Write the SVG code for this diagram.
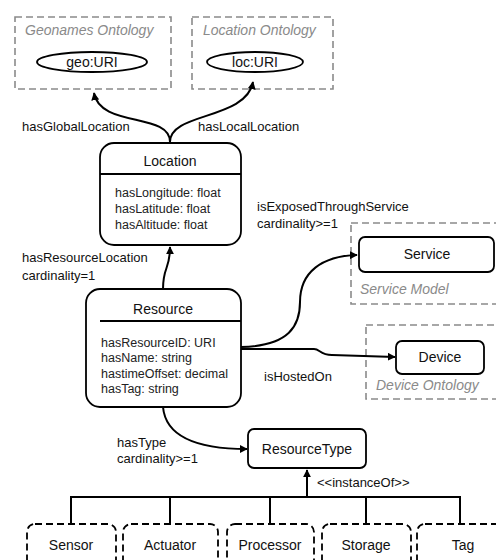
<svg xmlns="http://www.w3.org/2000/svg" width="496" height="560" viewBox="0 0 496 560">
  <defs>
    <marker id="arrow" viewBox="0 0 10 10" refX="9" refY="5" markerWidth="8" markerHeight="8" markerUnits="userSpaceOnUse" orient="auto">
      <path d="M0,0 L10,5 L0,10 z" fill="#000"/>
    </marker>
    <style>
      text { font-family: "Liberation Sans", Arial, sans-serif; fill: #111; }
      .lbl { font-size: 13px; }
      .attr { font-size: 12.5px; fill: #222; }
      .title { font-size: 14px; text-anchor: middle; }
      .scope { font-size: 14px; font-style: italic; fill: #8a8a8a; }
      .scopebox { fill: none; stroke: #8a8a8a; stroke-width: 1.6; stroke-dasharray: 7 4; }
      .cls { fill: #fff; stroke: #000; stroke-width: 1.8; }
      .sub { fill: #fff; stroke: #000; stroke-width: 1.8; stroke-dasharray: 7 4; }
      .edge { fill: none; stroke: #000; stroke-width: 2; }
    </style>
  </defs>

  <!-- external ontology scopes -->
  <g id="geonames">
    <rect class="scopebox" x="15" y="17" width="156" height="72"/>
    <text class="scope" x="25" y="35">Geonames Ontology</text>
    <ellipse cx="92" cy="62" rx="55" ry="10" fill="#fff" stroke="#000" stroke-width="1.8"/>
    <text class="title" x="92" y="67">geo:URI</text>
  </g>
  <g id="location-ontology">
    <rect class="scopebox" x="192" y="17" width="141" height="72"/>
    <text class="scope" x="203" y="35">Location Ontology</text>
    <ellipse cx="255" cy="62" rx="48" ry="10" fill="#fff" stroke="#000" stroke-width="1.8"/>
    <text class="title" x="255" y="67">loc:URI</text>
  </g>
  <g id="service-model">
    <rect class="scopebox" x="351" y="223" width="160" height="81"/>
    <text class="scope" x="360" y="294">Service Model</text>
  </g>
  <g id="device-ontology">
    <rect class="scopebox" x="366" y="325" width="145" height="74"/>
    <text class="scope" x="376" y="390">Device Ontology</text>
  </g>

  <!-- connectors -->
  <g id="connectors">
    <path class="edge" d="M170,142 C170,112 100,128 94,93" marker-end="url(#arrow)"/>
    <path class="edge" d="M170,142 C170,112 246,120 253,82" marker-end="url(#arrow)"/>
    <path class="edge" d="M163,289 C163,266 170,270 170,247" marker-end="url(#arrow)"/>
    <path class="edge" d="M241,347 C290,346 300,325 300,302 C300,272 322,256 357,255" marker-end="url(#arrow)"/>
    <path class="edge" d="M241,349 L314,349 C320,349 320,355 332,355 L395,357" marker-end="url(#arrow)"/>
    <path class="edge" d="M163,407 C166,440 205,449 247,449" marker-end="url(#arrow)"/>
    <path class="edge" d="M307,497 L307,470" marker-end="url(#arrow)"/>
    <path class="edge" d="M71,524 L71,497 L460,497 L460,524 M170,497 L170,524 M270,497 L270,524 M366,497 L366,524"/>
    <text class="lbl" x="22" y="131">hasGlobalLocation</text>
    <text class="lbl" x="198" y="131">hasLocalLocation</text>
    <text class="lbl" x="22" y="262">hasResourceLocation</text>
    <text class="lbl" x="22" y="280">cardinality=1</text>
    <text class="lbl" x="257" y="211">isExposedThroughService</text>
    <text class="lbl" x="257" y="228">cardinality&gt;=1</text>
    <text class="lbl" x="264" y="381">isHostedOn</text>
    <text class="lbl" x="117" y="447">hasType</text>
    <text class="lbl" x="117" y="463">cardinality&gt;=1</text>
    <text class="lbl" x="317" y="487">&lt;&lt;instanceOf&gt;&gt;</text>
  </g>

  <!-- classes -->
  <g id="location">
    <rect class="cls" x="100" y="143" width="141" height="102" rx="14"/>
    <line x1="100" y1="174" x2="241" y2="174" stroke="#000" stroke-width="1.8"/>
    <text class="title" x="170" y="166">Location</text>
    <text class="attr" x="115" y="197">hasLongitude: float</text>
    <text class="attr" x="115" y="213">hasLatitude: float</text>
    <text class="attr" x="115" y="229">hasAltitude: float</text>
  </g>
  <g id="resource">
    <rect class="cls" x="86" y="289" width="155" height="118" rx="14"/>
    <line x1="100" y1="321" x2="241" y2="321" stroke="#000" stroke-width="1.8"/>
    <text class="title" x="163" y="314">Resource</text>
    <text class="attr" x="101" y="347">hasResourceID: URI</text>
    <text class="attr" x="101" y="362">hasName: string</text>
    <text class="attr" x="101" y="378">hastimeOffset: decimal</text>
    <text class="attr" x="101" y="393">hasTag: string</text>
  </g>
  <g id="service">
    <rect class="cls" x="359" y="237" width="135" height="35" rx="6"/>
    <text class="title" x="427" y="259">Service</text>
  </g>
  <g id="device">
    <rect class="cls" x="396" y="341" width="88" height="33" rx="6"/>
    <text class="title" x="440" y="362">Device</text>
  </g>
  <g id="resource-type">
    <rect class="cls" x="248" y="429" width="118" height="39" rx="6"/>
    <text class="title" x="307" y="454">ResourceType</text>
  </g>

  <!-- resource type instances -->
  <g id="sensor">
    <rect class="sub" x="27" y="524" width="89" height="60" rx="8"/>
    <text class="title" x="71" y="550">Sensor</text>
  </g>
  <g id="actuator">
    <rect class="sub" x="123" y="524" width="95" height="60" rx="8"/>
    <text class="title" x="170" y="550">Actuator</text>
  </g>
  <g id="processor">
    <rect class="sub" x="227" y="524" width="87" height="60" rx="8"/>
    <text class="title" x="270" y="550">Processor</text>
  </g>
  <g id="storage">
    <rect class="sub" x="322" y="524" width="89" height="60" rx="8"/>
    <text class="title" x="366" y="550">Storage</text>
  </g>
  <g id="tag">
    <rect class="sub" x="417" y="524" width="100" height="60" rx="8"/>
    <text class="title" x="463" y="550">Tag</text>
  </g>
</svg>
